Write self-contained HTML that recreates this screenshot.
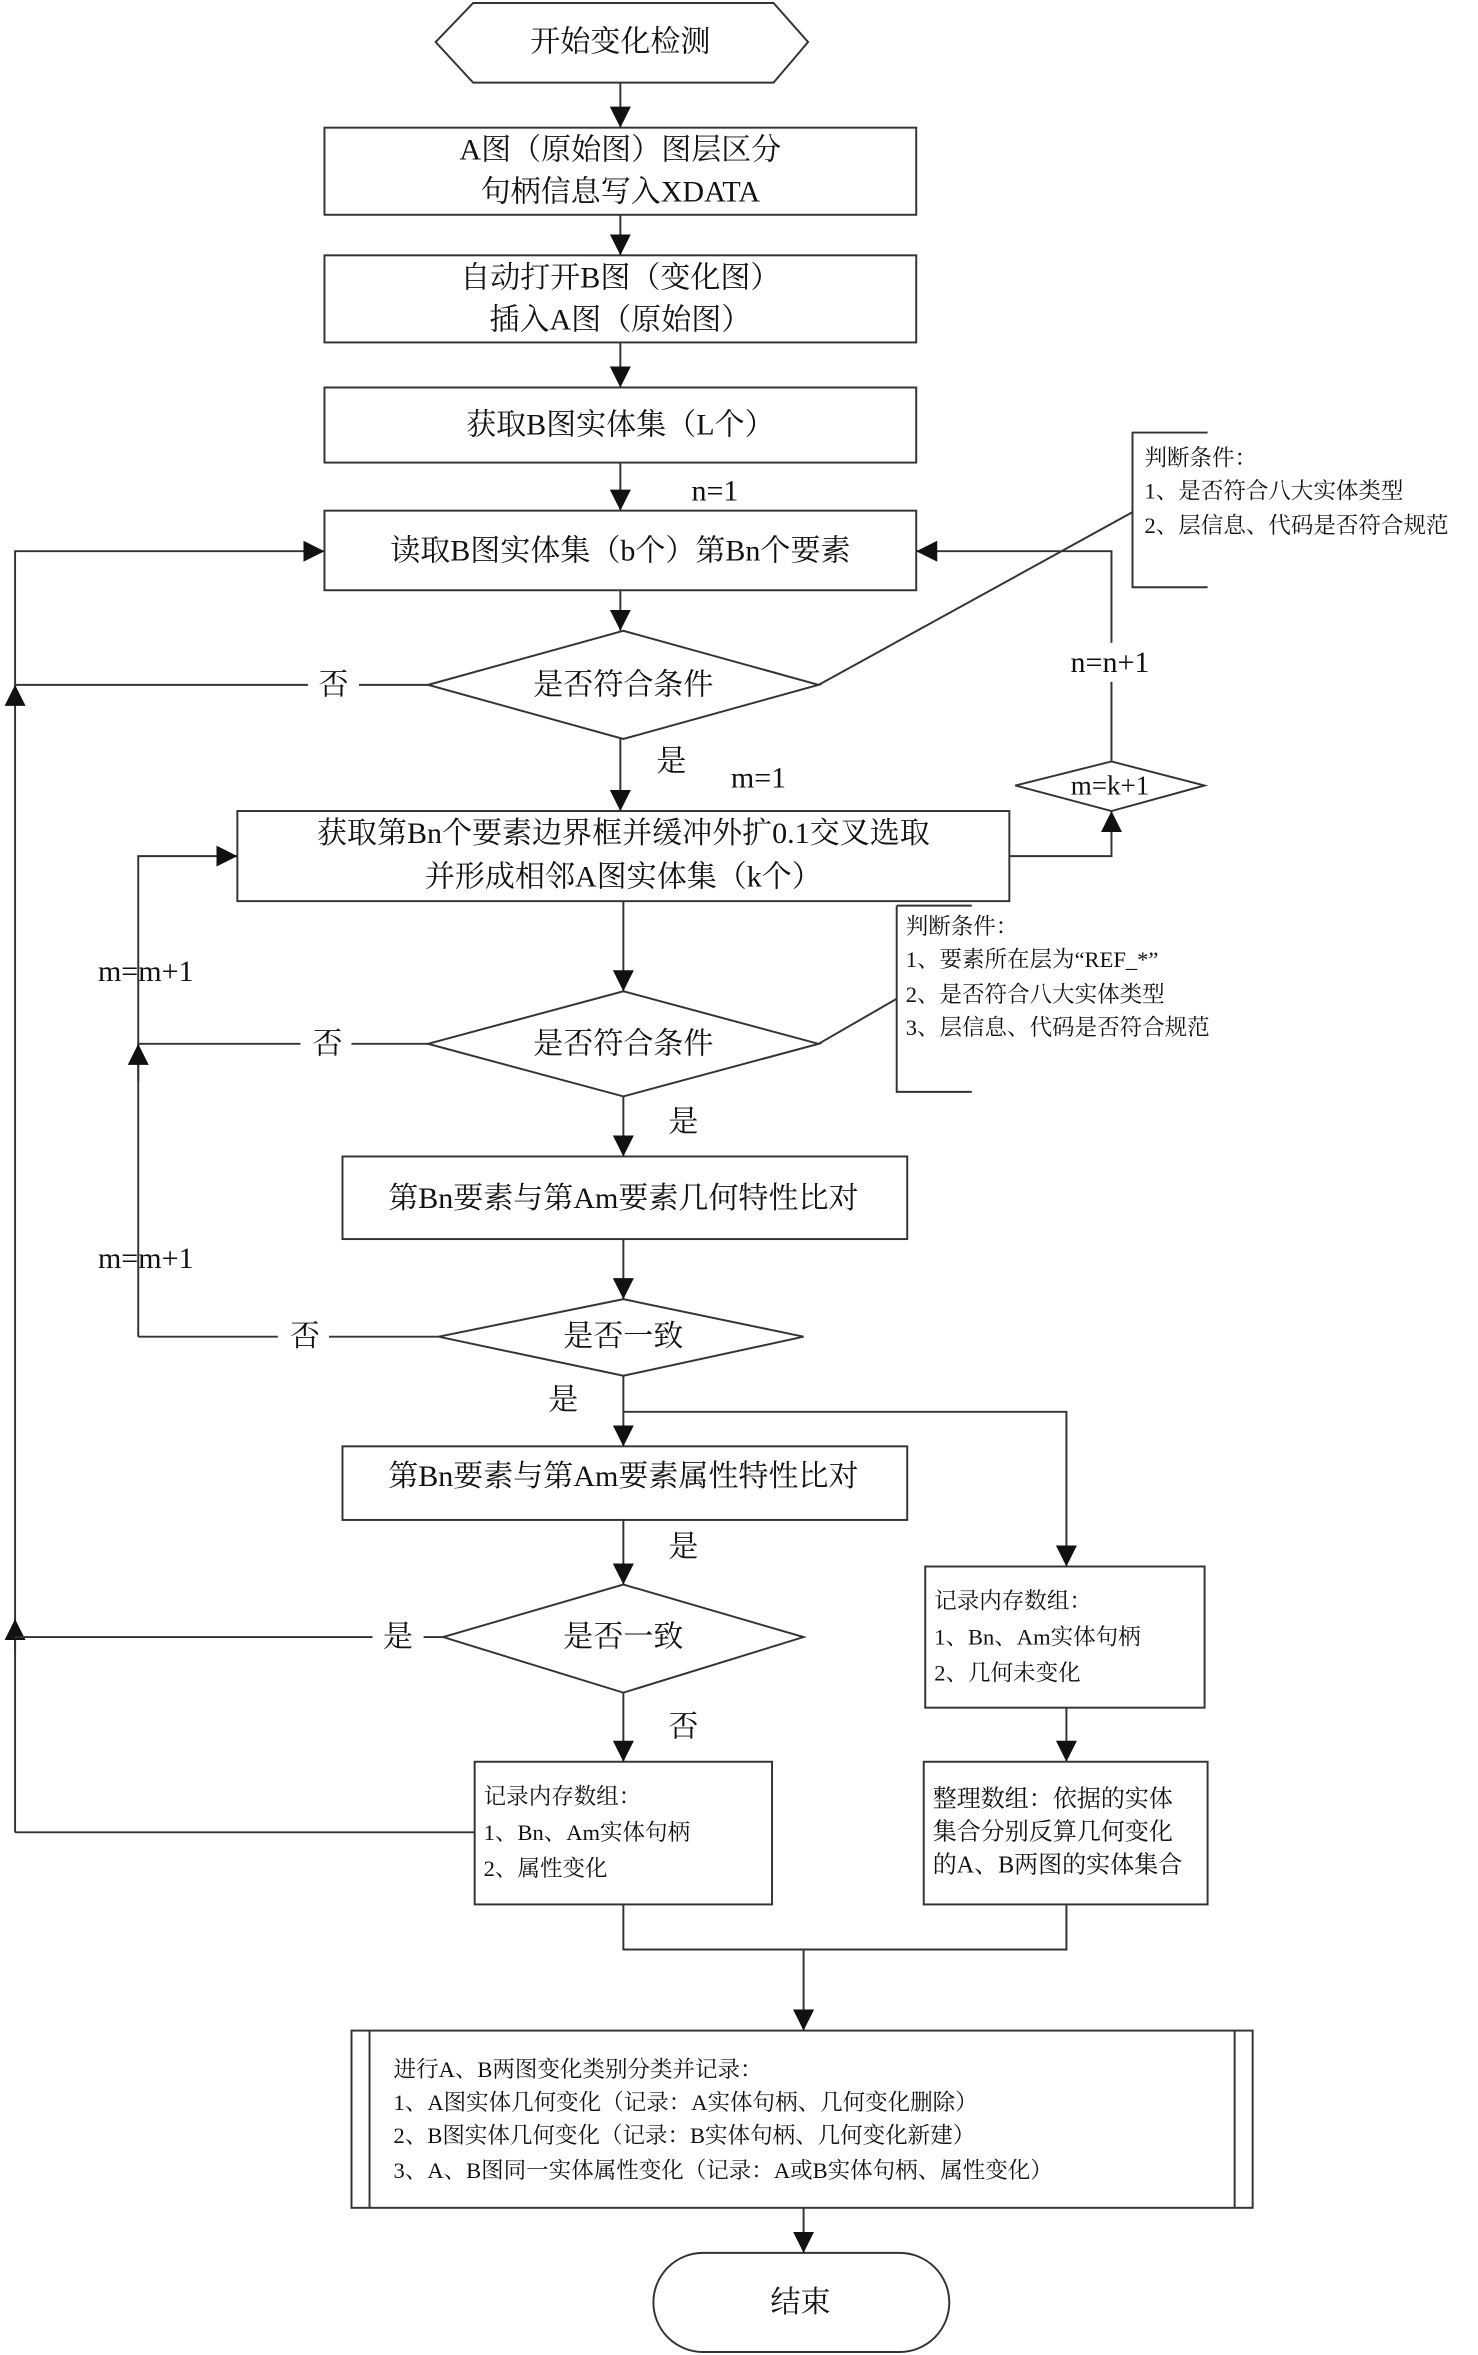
<!DOCTYPE html>
<html><head><meta charset="utf-8"><style>
html,body{margin:0;padding:0;background:#fff;}
svg{display:block;}
text{font-family:"Liberation Serif","Noto Serif CJK SC",serif;fill:#111;}
.m{font-size:20px;text-anchor:middle;dominant-baseline:central;}
.s{font-size:15px;dominant-baseline:central;}
</style></head><body>
<svg width="1478" height="2355" viewBox="0 0 984 1568" xmlns="http://www.w3.org/2000/svg">
<defs>
<marker id="a" viewBox="0 0 10 10" refX="10" refY="5" markerWidth="14" markerHeight="14" markerUnits="userSpaceOnUse" orient="auto"><path d="M0,0L10,5L0,10z" fill="#111"/></marker>
</defs>
<g fill="none" stroke="#333" stroke-width="1.3">
<polygon points="290,28 315,2 515,2 538,28 515,55 315,55" fill="#fff"/>
<rect x="216" y="85" width="394" height="58"/>
<rect x="216" y="170" width="394" height="58"/>
<rect x="216" y="258" width="394" height="50"/>
<rect x="216" y="340" width="394" height="53"/>
<polygon points="285,456 415,420 545,456 415,492"/>
<polyline points="804,288 754,288 754,391 804,391"/>
<line x1="545" y1="456" x2="754" y2="341"/>
<rect x="158" y="540" width="514" height="60"/>
<polygon points="676,523 740,507 802,523 740,540"/>
<polyline points="597,603 647,603"/><polyline points="597,603 597,727 647,727"/>
<line x1="545" y1="695" x2="597" y2="665"/>
<polygon points="285,695 415,660 545,695 415,730"/>
<rect x="228" y="770" width="376" height="55"/>
<polygon points="292,890 415,865 535,890 415,916"/>
<rect x="228" y="963" width="376" height="49"/>
<polygon points="295,1090 415,1055 535,1090 415,1127"/>
<rect x="316" y="1173" width="198" height="95"/>
<rect x="616" y="1043" width="186" height="94"/>
<rect x="615" y="1173" width="189" height="95"/>
<rect x="234" y="1352" width="600" height="118"/>
<line x1="246" y1="1352" x2="246" y2="1470"/><line x1="822" y1="1352" x2="822" y2="1470"/>
<rect x="435" y="1500" width="197" height="66" rx="33"/>
<!-- arrows -->
<g marker-end="url(#a)">
<line x1="413" y1="55" x2="413" y2="85"/>
<line x1="413" y1="143" x2="413" y2="170"/>
<line x1="413" y1="228" x2="413" y2="258"/>
<line x1="413" y1="308" x2="413" y2="340"/>
<line x1="413" y1="393" x2="413" y2="420"/>
<line x1="413" y1="492" x2="413" y2="540"/>
<line x1="415" y1="600" x2="415" y2="660"/>
<line x1="415" y1="730" x2="415" y2="770"/>
<line x1="415" y1="825" x2="415" y2="865"/>
<line x1="415" y1="940" x2="415" y2="963"/>
<line x1="415" y1="1012" x2="415" y2="1055"/>
<line x1="415" y1="1127" x2="415" y2="1173"/>
<polyline points="415,940 710,940 710,1043"/>
<line x1="710" y1="1137" x2="710" y2="1173"/>
<line x1="535" y1="1298" x2="535" y2="1352"/>
<line x1="535" y1="1470" x2="535" y2="1500"/>
<polyline points="672,570 740,570 740,540"/>
<polyline points="740,507 740,367 610,367"/>
<polyline points="10,1220 10,367 216,367"/>
<line x1="10" y1="1100" x2="10" y2="1078"/>
<line x1="10" y1="470" x2="10" y2="456"/>
<polyline points="92,890 92,570 158,570"/>
<line x1="92" y1="720" x2="92" y2="695"/>
</g>
<line x1="285" y1="456" x2="10" y2="456"/>
<line x1="285" y1="695" x2="92" y2="695"/>
<line x1="292" y1="890" x2="92" y2="890"/>
<line x1="295" y1="1090" x2="10" y2="1090"/>
<line x1="316" y1="1220" x2="10" y2="1220"/>
<line x1="415" y1="916" x2="415" y2="940"/>
<polyline points="415,1268 415,1298 710,1298 710,1268"/>
</g>
<!-- label backgrounds -->
<rect x="205" y="444" width="34" height="24" fill="#fff"/>
<rect x="200" y="683" width="34" height="24" fill="#fff"/>
<rect x="185" y="878" width="34" height="24" fill="#fff"/>
<rect x="248" y="1078" width="34" height="24" fill="#fff"/>
<rect x="706" y="428" width="66" height="26" fill="#fff"/>
<text class="m" x="413" y="28">开始变化检测</text>
<text class="m" x="413" y="100">A图（原始图）图层区分</text>
<text class="m" x="413" y="128">句柄信息写入XDATA</text>
<text class="m" x="413" y="185">自动打开B图（变化图）</text>
<text class="m" x="413" y="213">插入A图（原始图）</text>
<text class="m" x="413" y="283">获取B图实体集（L个）</text>
<text class="m" x="476" y="327">n=1</text>
<text class="m" x="413" y="367">读取B图实体集（b个）第Bn个要素</text>
<text class="s" x="762" y="305">判断条件：</text>
<text class="s" x="762" y="327">1、是否符合八大实体类型</text>
<text class="s" x="762" y="350">2、层信息、代码是否符合规范</text>
<text class="m" x="415" y="456">是否符合条件</text>
<text class="m" x="222" y="456">否</text>
<text class="m" x="739" y="441">n=n+1</text>
<text class="m" x="447" y="507">是</text>
<text class="m" x="505" y="518">m=1</text>
<text class="m" x="739" y="523" style="font-size:18px">m=k+1</text>
<text class="m" x="415" y="555">获取第Bn个要素边界框并缓冲外扩0.1交叉选取</text>
<text class="m" x="415" y="584">并形成相邻A图实体集（k个）</text>
<text class="s" x="603" y="617">判断条件：</text>
<text class="s" x="603" y="639">1、要素所在层为“REF_*”</text>
<text class="s" x="603" y="662">2、是否符合八大实体类型</text>
<text class="s" x="603" y="684">3、层信息、代码是否符合规范</text>
<text class="m" x="97" y="647">m=m+1</text>
<text class="m" x="415" y="695">是否符合条件</text>
<text class="m" x="218" y="695">否</text>
<text class="m" x="455" y="747">是</text>
<text class="m" x="415" y="798">第Bn要素与第Am要素几何特性比对</text>
<text class="m" x="97" y="838">m=m+1</text>
<text class="m" x="415" y="890">是否一致</text>
<text class="m" x="203" y="890">否</text>
<text class="m" x="375" y="932">是</text>
<text class="m" x="415" y="983">第Bn要素与第Am要素属性特性比对</text>
<text class="m" x="455" y="1030">是</text>
<text class="m" x="415" y="1090">是否一致</text>
<text class="m" x="265" y="1090">是</text>
<text class="m" x="455" y="1150">否</text>
<text class="s" x="322" y="1196">记录内存数组：</text>
<text class="s" x="322" y="1220">1、Bn、Am实体句柄</text>
<text class="s" x="322" y="1244">2、属性变化</text>
<text class="s" x="622" y="1066">记录内存数组：</text>
<text class="s" x="622" y="1090">1、Bn、Am实体句柄</text>
<text class="s" x="622" y="1114">2、几何未变化</text>
<text class="s" x="621" y="1198" style="font-size:16px">整理数组：依据的实体</text>
<text class="s" x="621" y="1220" style="font-size:16px">集合分别反算几何变化</text>
<text class="s" x="621" y="1242" style="font-size:16px">的A、B两图的实体集合</text>
<text class="s" x="262" y="1378">进行A、B两图变化类别分类并记录：</text>
<text class="s" x="262" y="1400">1、A图实体几何变化（记录：A实体句柄、几何变化删除）</text>
<text class="s" x="262" y="1422">2、B图实体几何变化（记录：B实体句柄、几何变化新建）</text>
<text class="s" x="262" y="1445">3、A、B图同一实体属性变化（记录：A或B实体句柄、属性变化）</text>
<text class="m" x="533" y="1533">结束</text>
</svg>
</body></html>
